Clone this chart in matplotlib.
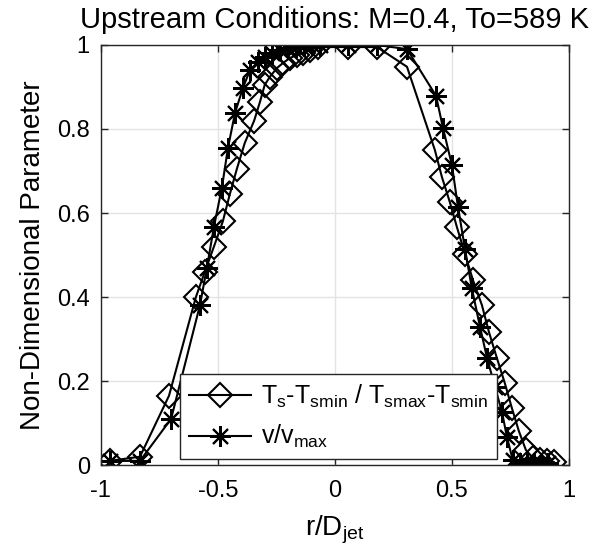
import matplotlib
matplotlib.use('Agg')
import matplotlib.pyplot as plt

plt.rcParams['font.family'] = ['Liberation Sans', 'DejaVu Sans']
plt.rcParams['mathtext.fontset'] = 'custom'
plt.rcParams['mathtext.rm'] = 'Liberation Sans'

# Ts - Tsmin / Tsmax - Tsmin  (diamonds)
r_ts = [-0.962, -0.833, -0.709, -0.594, -0.556, -0.517, -0.479, -0.449, -0.419,
        -0.385, -0.345, -0.320, -0.300, -0.278, -0.248, -0.222, -0.192, -0.162,
        -0.137, -0.107, -0.073, 0.055, 0.180, 0.308, 0.427, 0.457, 0.491, 0.521,
        0.556, 0.590, 0.628, 0.658, 0.692, 0.726, 0.756, 0.786, 0.816, 0.846,
        0.876, 0.906, 0.936]
ts = [0.010, 0.020, 0.165, 0.400, 0.460, 0.520, 0.580, 0.645, 0.705,
      0.767, 0.820, 0.865, 0.905, 0.924, 0.945, 0.957, 0.969, 0.976,
      0.981, 0.988, 0.995, 0.995, 0.995, 0.948, 0.750, 0.686, 0.626, 0.567,
      0.502, 0.440, 0.381, 0.317, 0.255, 0.195, 0.136, 0.081, 0.036, 0.017,
      0.012, 0.010, 0.007]

# v / vmax  (stars)
r_v = [-0.962, -0.833, -0.700, -0.577, -0.547, -0.517, -0.483, -0.457, -0.427,
       -0.393, -0.363, -0.329, -0.300, -0.270, -0.235, -0.200, -0.167, -0.132,
       -0.098, -0.064, 0.056, 0.180, 0.308, 0.432, 0.462, 0.500, 0.526, 0.556,
       0.585, 0.620, 0.650, 0.684, 0.714, 0.735, 0.760, 0.790, 0.820, 0.850,
       0.880, 0.910]
vel = [0.010, 0.010, 0.110, 0.380, 0.470, 0.567, 0.660, 0.755, 0.838,
       0.898, 0.940, 0.960, 0.971, 0.981, 0.988, 0.993, 0.995, 0.998,
       1.000, 1.000, 1.000, 1.000, 0.990, 0.879, 0.802, 0.714, 0.614, 0.514,
       0.421, 0.329, 0.255, 0.186, 0.126, 0.067, 0.012, 0.005, 0.005, 0.005,
       0.005, 0.005]

x_ticks = [-1, -0.5, 0, 0.5, 1]
x_tick_labels = ['-1', '-0.5', '0', '0.5', '1']
y_ticks = [0, 0.2, 0.4, 0.6, 0.8, 1]
y_tick_labels = ['0', '0.2', '0.4', '0.6', '0.8', '1']

fig = plt.figure(figsize=(5.97, 5.55), dpi=100)
ax = fig.add_axes([0.169, 0.162, 0.784, 0.757])

ax.plot(r_ts, ts, color='black', lw=1.5, marker='D', ms=12, mfc='none',
        mec='black', mew=1.5,
        label=r'T$_{\mathrm{s}}$-T$_{\mathrm{smin}}$ / T$_{\mathrm{smax}}$-T$_{\mathrm{smin}}$')
ax.plot(r_v, vel, color='black', lw=1.5, marker=(8, 2, 0), ms=15,
        mec='black', mew=1.5, label=r'v/v$_{\mathrm{max}}$')

ax.set_xlim(-1, 1)
ax.set_ylim(0, 1)
ax.set_xticks(x_ticks)
ax.set_xticklabels(x_tick_labels)
ax.set_yticks(y_ticks)
ax.set_yticklabels(y_tick_labels)
ax.tick_params(direction='in', top=True, right=True, labelsize=17, length=5,
               width=1, colors='#262626', labelcolor='black')
ax.tick_params(axis='x', pad=11)
ax.tick_params(axis='y', pad=8)
ax.grid(True, color='#e3e3e3', lw=1)
ax.set_axisbelow(True)
for s in ax.spines.values():
    s.set_color('#262626')
    s.set_linewidth(1)

ax.set_xlabel(r'r/D$_{\mathrm{jet}}$', fontsize=20, labelpad=8)
ax.set_ylabel('Non-Dimensional Parameter', fontsize=20, labelpad=8)
ax.set_title('Upstream Conditions: M=0.4, To=589 K', fontsize=21, pad=12)

leg = ax.legend(loc='lower left', bbox_to_anchor=(0.169, 0.014), borderaxespad=0,
                fontsize=18, handlelength=2.5, fancybox=False, framealpha=1,
                edgecolor='#262626', borderpad=0.35, labelspacing=0.55,
                handletextpad=0.4)
leg.get_frame().set_linewidth(1)

fig.savefig('out.png', dpi=100)
